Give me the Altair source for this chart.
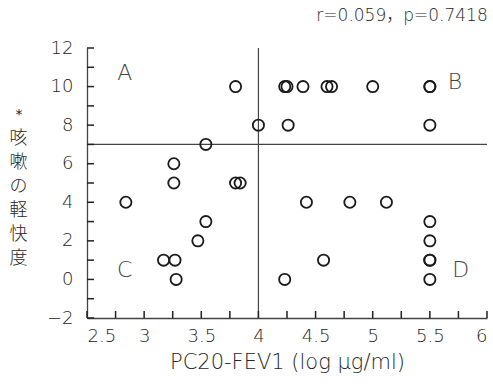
import altair as alt
import pandas as pd

FONT = "DejaVu Sans, Noto Sans CJK JP"
CJK = "Noto Sans CJK JP"

# data
x_vals = [3.80, 4.23, 4.25, 4.39, 4.60, 4.64, 5.00, 5.5, 5.5,
          4.00, 4.26, 5.5,
          3.54,
          3.26,
          3.26, 3.80, 3.84,
          2.84, 4.42, 4.80, 5.12,
          3.54, 5.5,
          3.47, 5.5,
          3.17, 3.27, 4.57, 5.5, 5.5,
          3.28, 4.23, 5.5]
y_vals = [10, 10, 10, 10, 10, 10, 10, 10, 10,
          8, 8, 8,
          7,
          6,
          5, 5, 5,
          4, 4, 4, 4,
          3, 3,
          2, 2,
          1, 1, 1, 1, 1,
          0, 0, 0]

quad_labels = ["A", "B", "C", "D"]
quad_x = [2.83, 5.72, 2.83, 5.77]
quad_y = [10.7, 10.25, 0.5, 0.5]

x_cut = [4]
y_cut = [7]

x_tick_vals = [2.5, 2.75, 3, 3.25, 3.5, 3.75, 4, 4.25, 4.5, 4.75, 5, 5.25, 5.5, 5.75, 6]
y_tick_vals = [-2, -1, 0, 1, 2, 3, 4, 5, 6, 7, 8, 9, 10, 11, 12]
x_label_vals = [2.5, 3, 3.5, 4, 4.5, 5, 5.5, 6]
y_label_vals = [-2, 0, 2, 4, 6, 8, 10, 12]

title_text = "r=0.059，p=0.7418"
x_title = "PC20-FEV1 (log μg/ml)"
y_title = ["咳", "嗽", "の", "軽", "快", "度"]

X_MIN, X_MAX = 2.5, 6
Y_MIN, Y_MAX = -2, 12
W, H = 400, 270
AX = "#444444"
TICK = "#222222"
TXT = "#262626"
WT = 200

df = pd.DataFrame({"x": x_vals, "y": y_vals})
qdf = pd.DataFrame({"x": quad_x, "y": quad_y, "t": quad_labels})
vc = pd.DataFrame({"x": x_cut})
hc = pd.DataFrame({"y": y_cut})
xt = pd.DataFrame({"x": x_tick_vals})
yt = pd.DataFrame({"y": y_tick_vals})

xs = alt.Scale(domain=[X_MIN, X_MAX], nice=False, zero=False)
ys = alt.Scale(domain=[Y_MIN, Y_MAX], nice=False, zero=False)

X_AXIS = alt.Axis(
    values=x_label_vals, format="~g", ticks=False, tickSize=0, grid=False,
    domainColor=AX, domainWidth=1.3, labelFont=FONT, labelFontSize=18,
    labelFontWeight=WT, labelColor=TXT, labelPadding=9, title=x_title,
    titleFont=FONT, titleFontSize=21, titleFontWeight=WT, titleColor=TXT,
    titlePadding=6)
Y_AXIS = alt.Axis(
    values=y_label_vals, ticks=False, tickSize=0, grid=False,
    domainColor=AX, domainWidth=1.3, labelFont=FONT, labelFontSize=18,
    labelFontWeight=WT, labelColor=TXT, labelPadding=14, title=y_title,
    titleFont=CJK, titleFontSize=18, titleFontWeight=300, titleColor=TXT,
    titleAngle=0, titleLineHeight=24, titleAlign="center",
    titleBaseline="middle", titleX=-69, titleY=90)


def X():
    return alt.X("x:Q", scale=xs, axis=X_AXIS, title=x_title)


def Y():
    return alt.Y("y:Q", scale=ys, axis=Y_AXIS, title=y_title)


points = alt.Chart(df).mark_point(
    shape="circle", filled=False, color="#1a1a1a", strokeWidth=1.8, size=125, opacity=1
).encode(x=X(), y=Y())

vline = alt.Chart(vc).mark_rule(color="#444444", strokeWidth=1.2).encode(x=X())
hline = alt.Chart(hc).mark_rule(color="#444444", strokeWidth=1.2).encode(y=Y())

# inward ticks: short rules rising from the bottom edge / reaching in from the left edge
xticks = alt.Chart(xt).mark_rule(color=TICK, strokeWidth=1.5, opacity=1).encode(
    x=X(), y=alt.value(H), y2=alt.value(H - 7))
yticks = alt.Chart(yt).mark_rule(color=TICK, strokeWidth=1.5, opacity=1).encode(
    y=Y(), x=alt.value(0), x2=alt.value(7))

quads = alt.Chart(qdf).mark_text(
    font=FONT, fontSize=22, fontWeight=WT, color="#444444", align="center",
    baseline="middle"
).encode(x=X(), y=Y(), text="t:N")

star = alt.Chart(pd.DataFrame({"s": ["*"]})).mark_text(
    font=FONT, fontSize=14, color=TXT, align="center", baseline="middle"
).encode(text="s:N", x=alt.value(-68), y=alt.value(67))

chart = alt.layer(vline, hline, points, quads, star, xticks, yticks).properties(
    width=W, height=H,
    title=alt.TitleParams(title_text, anchor="end", font=FONT, fontSize=17,
                          fontWeight=WT, color=TXT, offset=14),
    autosize=alt.AutoSizeParams(type="none"),
    padding={"left": 87, "top": 48, "right": 6, "bottom": 66},
).configure_view(stroke=None)

chart.save("out.html", embed_options={"renderer": "svg", "actions": False})
